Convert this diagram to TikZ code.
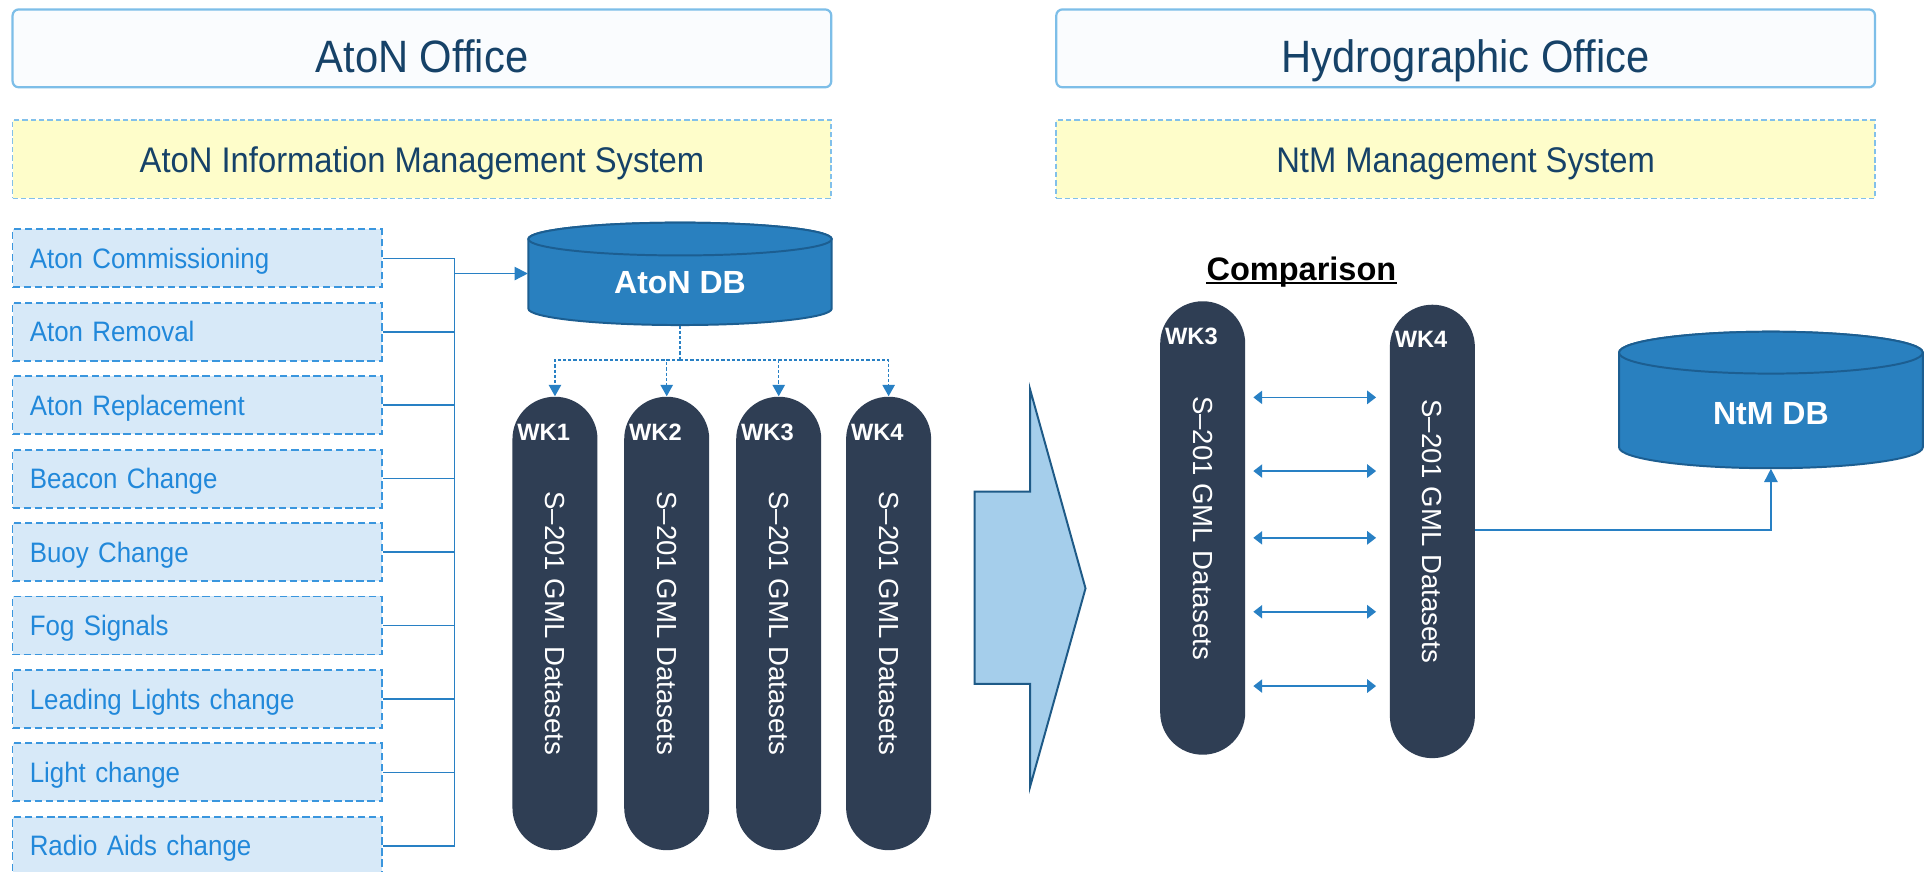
\documentclass[tikz,border=0pt]{standalone}
\usepackage{fontspec}
\usepackage{graphicx}
\setmainfont{Liberation Sans}
\newfontfamily\panelfont[FakeStretch=0.92]{Liberation Sans}
\usetikzlibrary{arrows.meta,calc}

\definecolor{navytext}{RGB}{22,66,104}
\definecolor{hdrline}{RGB}{125,190,232}
\definecolor{hdrfill}{RGB}{250,252,254}
\definecolor{sysfill}{RGB}{254,253,202}
\definecolor{sysline}{RGB}{130,192,234}
\definecolor{itemfill}{RGB}{215,233,248}
\definecolor{itemline}{RGB}{58,150,222}
\definecolor{itemtext}{RGB}{33,136,218}
\definecolor{linkblue}{RGB}{40,128,196}
\definecolor{dbfill}{RGB}{41,128,191}
\definecolor{dbline}{RGB}{28,94,145}
\definecolor{pillfill}{RGB}{47,62,84}
\definecolor{bigarrowfill}{RGB}{165,206,235}
\definecolor{bigarrowline}{RGB}{30,90,135}

\tikzset{
  officebox/.style={draw=hdrline, line width=0.9pt, fill=hdrfill, rounded corners=2.5pt,
    minimum width=332.25pt, minimum height=31.6pt, inner sep=0pt},
  sysbox/.style={draw=sysline, line width=0.7pt, dash pattern=on 2.2pt off 1.2pt, fill=sysfill,
    minimum width=332.25pt, minimum height=31.8pt, inner sep=0pt},
  officetext/.style={text=navytext, font=\panelfont\fontsize{18.4pt}{20pt}\selectfont,
    inner sep=0pt, anchor=base},
  systext/.style={text=navytext, font=\panelfont\fontsize{14.45pt}{16pt}\selectfont,
    inner sep=0pt, anchor=base},
  itembox/.style={draw=itemline, line width=0.75pt, dash pattern=on 3pt off 1.5pt, fill=itemfill,
    minimum height=23.55pt, text width=135.75pt, inner xsep=7pt, inner ysep=0pt, align=left,
    text=itemtext, font=\panelfont\fontsize{11.41pt}{13pt}\selectfont,
    text height=8.17pt, text depth=0pt},
  pill/.style={fill=pillfill, draw=none, rounded corners=17.2pt, minimum width=34.5pt,
    minimum height=184pt, inner sep=0pt, text=white, font=\fontsize{11.2pt}{13pt}\selectfont},
  wklabel/.style={text=white, font=\bfseries\fontsize{9.6pt}{11pt}\selectfont, inner sep=0pt,
    anchor=west, text height=6.9pt, text depth=0pt},
  dbshape/.style={fill=dbfill, draw=dbline, line width=0.8pt},
  dbtext/.style={text=white, font=\bfseries\fontsize{13pt}{15pt}\selectfont, inner sep=0pt,
    text height=9.3pt, text depth=0pt},
  conn/.style={draw=linkblue, line width=0.65pt},
  dashlink/.style={draw=linkblue, line width=0.55pt, dash pattern=on 1.3pt off 0.8pt},
  tipbig/.tip={Triangle[length=5.4pt,width=5.4pt]},
  tipsmall/.tip={Triangle[length=4.6pt,width=5pt]},
  tipcmp/.tip={Triangle[length=3.6pt,width=5.4pt]},
}

\begin{document}
\begin{tikzpicture}[x=0.5pt, y=-0.5pt]
  \useasboundingbox (0,0) rectangle (1568,707);
  \fill[white] (0,0) rectangle (1568,707);

  % ---------- office headers ----------
  \node[officebox] (atonoffice) at (342.45,39.25) {};
  \node[officetext] (atonofficetext) at (342.45,59) {AtoN Office};
  \node[sysbox] (atonsys) at (342.45,129.2) {};
  \node[systext] (atonsystext) at (342.45,139.8) {AtoN Information Management System};

  \node[officebox] (hydrooffice) at (1189.5,39.25) {};
  \node[officetext] (hydroofficetext) at (1189.5,59) {Hydrographic Office};
  \node[sysbox] (ntmsys) at (1189.5,129.2) {};
  \node[systext] (ntmsystext) at (1189.5,139.8) {NtM Management System};

  % ---------- change event list ----------
  \foreach \t [count=\i] in {Aton Commissioning, Aton Removal, Aton Replacement,
      Beacon Change, Buoy Change, Fog Signals, Leading Lights change,
      Light change, Radio Aids change}
    \node[itembox] (item\i) at (159.95,{209.65+59.6*(\i-1)}) {\t};

  % ---------- AtoN database ----------
  \filldraw[dbshape] (428.8,194) -- (428.8,250.5)
    arc[start angle=180, end angle=360, x radius=61.55pt, y radius=6.65pt]
    -- (675,194)
    arc[start angle=0, end angle=180, x radius=61.55pt, y radius=6.65pt] -- cycle;
  \filldraw[dbshape] (551.9,194) ellipse[x radius=61.55pt, y radius=6.65pt];
  \node[dbtext, minimum width=123.1pt, minimum height=34.8pt] (atondb) at (551.9,229) {AtoN DB};

  % bus from the event list into the database
  \coordinate (busTop) at (369,209.65);
  \coordinate (busBot) at (369,686.45);
  \coordinate (busJoin) at (369,222);
  \foreach \i in {1,...,9}
    \draw[conn] (item\i.east) -- (item\i.east -| busTop);
  \draw[conn] (busTop) -- (busBot);
  \draw[conn,-tipbig] (busJoin) -- (busJoin -| atondb.west);

  % ---------- weekly datasets ----------
  \node[pill] (wkOne)   at (450.4,506) {\rotatebox{-90}{S–201 GML Datasets}};
  \node[pill] (wkTwo)   at (541.1,506) {\rotatebox{-90}{S–201 GML Datasets}};
  \node[pill] (wkThree) at (632.0,506) {\rotatebox{-90}{S–201 GML Datasets}};
  \node[pill] (wkFour)  at (721.2,506) {\rotatebox{-90}{S–201 GML Datasets}};
  \node[wklabel] (wkOneLab)   at ($(wkOne.north west)+(4,29)$)   {WK1};
  \node[wklabel] (wkTwoLab)   at ($(wkTwo.north west)+(4,29)$)   {WK2};
  \node[wklabel] (wkThreeLab) at ($(wkThree.north west)+(4,29)$) {WK3};
  \node[wklabel] (wkFourLab)  at ($(wkFour.north west)+(4,29)$)  {WK4};

  \coordinate (fork) at (551.9,292.2);
  \draw[dashlink] (atondb.south) -- (fork);
  \foreach \p in {wkOne,wkTwo,wkThree,wkFour}
    \draw[dashlink,-tipsmall] (fork) -| (\p.north);

  % ---------- transfer arrow ----------
  \filldraw[fill=bigarrowfill, draw=bigarrowline, line width=0.8pt]
    (791,399) -- (836,399) -- (836,316) -- (881,477.5) -- (836,638.5)
    -- (836,555) -- (791,555) -- cycle;

  % ---------- comparison ----------
  \node[text=black, font=\bfseries\fontsize{13.2pt}{15pt}\selectfont, inner sep=0pt, anchor=base]
    (comparison) at (1056.2,227.3) {Comparison};
  \draw[black, line width=0.8pt] ([yshift=-1.1pt]comparison.base west)
    -- ([yshift=-1.1pt]comparison.base east);

  \node[pill] (cmpThree) at (976.1,428.5)  {\rotatebox{-90}{S–201 GML Datasets}};
  \node[pill] (cmpFour)  at (1162.5,431.3) {\rotatebox{-90}{S–201 GML Datasets}};
  \node[wklabel] (cmpThreeLab) at ($(cmpThree.north west)+(4,28.5)$) {WK3};
  \node[wklabel] (cmpFourLab)  at ($(cmpFour.north west)+(4,28.5)$)  {WK4};

  \foreach \yy in {322.5,382.3,436.5,496.5,556.8}
    \draw[conn, tipcmp-tipcmp, shorten <=3.1pt, shorten >=5.4pt]
      (cmpThree.east |- 0,\yy) -- (cmpFour.west |- 0,\yy);

  % ---------- NtM database ----------
  \filldraw[dbshape] (1314,286.2) -- (1314,363)
    arc[start angle=180, end angle=360, x radius=61.625pt, y radius=8.5pt]
    -- (1560.5,286.2)
    arc[start angle=0, end angle=180, x radius=61.625pt, y radius=8.5pt] -- cycle;
  \filldraw[dbshape] (1437.25,286.2) ellipse[x radius=61.625pt, y radius=8.5pt];
  \node[dbtext, minimum width=123.25pt, minimum height=44.5pt] (ntmdb) at (1437.25,335.5) {NtM DB};

  \draw[conn,-tipbig] (cmpFour.east |- 0,430.2) -| (ntmdb.south);
\end{tikzpicture}
\end{document}
